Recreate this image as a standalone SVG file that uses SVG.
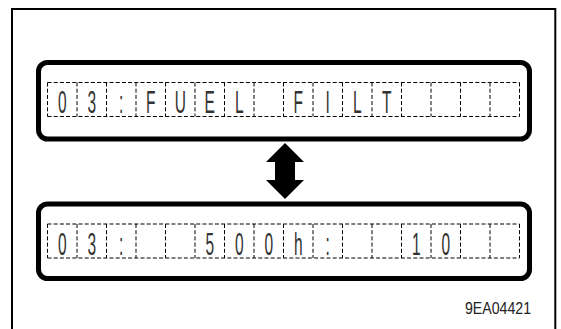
<svg xmlns="http://www.w3.org/2000/svg" width="561" height="329" viewBox="0 0 561 329">
<style>
.frame{fill:none;stroke:#000;stroke-width:2}
.box{fill:#fff;stroke:#000;stroke-width:5}
.cell{fill:none;stroke:#000;stroke-width:1;stroke-dasharray:4 2.2}
.ch{font-family:"Liberation Sans","DejaVu Sans",sans-serif;font-size:31px;fill:#333;text-anchor:middle}
.lbl{font-family:"Liberation Sans","DejaVu Sans",sans-serif;font-size:16px;fill:#222;text-anchor:end}
</style>
<defs>
<g id="grid">
<path class="cell" d="M47.5 0H519.5M47.5 34H519.5M47.5 0V34M77 0V34M106.5 0V34M136 0V34M165.5 0V34M195 0V34M224.5 0V34M254 0V34M283.5 0V34M313 0V34M342.5 0V34M372 0V34M401.5 0V34M431 0V34M460.5 0V34M490 0V34M519.5 0V34"/>
</g>
</defs>
<rect width="561" height="329" fill="#fff"/>
<g id="frame"><path class="frame" d="M12 329V9H555.3V329"/></g>
<g id="display-top">
<rect class="box" x="38.5" y="62.5" width="491" height="76.5" rx="9"/>
<use href="#grid" y="82.5"/>
<text class="ch" transform="translate(62.25 112.5) scale(0.5 1)">0</text>
<text class="ch" transform="translate(91.75 112.5) scale(0.5 1)">3</text>
<text class="ch" transform="translate(121.25 112.5) scale(0.5 1)">:</text>
<text class="ch" transform="translate(150.75 112.5) scale(0.5 1)">F</text>
<text class="ch" transform="translate(180.25 112.5) scale(0.5 1)">U</text>
<text class="ch" transform="translate(209.75 112.5) scale(0.5 1)">E</text>
<text class="ch" transform="translate(239.25 112.5) scale(0.5 1)">L</text>
<text class="ch" transform="translate(298.25 112.5) scale(0.5 1)">F</text>
<text class="ch" transform="translate(327.75 112.5) scale(0.5 1)">I</text>
<text class="ch" transform="translate(357.25 112.5) scale(0.5 1)">L</text>
<text class="ch" transform="translate(386.75 112.5) scale(0.5 1)">T</text>
</g>
<g id="display-bottom">
<rect class="box" x="38.5" y="204" width="491" height="74.5" rx="9"/>
<use href="#grid" y="224"/>
<text class="ch" transform="translate(62.25 255) scale(0.5 1)">0</text>
<text class="ch" transform="translate(91.75 255) scale(0.5 1)">3</text>
<text class="ch" transform="translate(121.25 255) scale(0.5 1)">:</text>
<text class="ch" transform="translate(209.75 255) scale(0.5 1)">5</text>
<text class="ch" transform="translate(239.25 255) scale(0.5 1)">0</text>
<text class="ch" transform="translate(268.75 255) scale(0.5 1)">0</text>
<text class="ch" transform="translate(298.25 255) scale(0.5 1)">h</text>
<text class="ch" transform="translate(327.75 255) scale(0.5 1)">:</text>
<text class="ch" transform="translate(416.25 255) scale(0.5 1)">1</text>
<text class="ch" transform="translate(445.75 255) scale(0.5 1)">0</text>
</g>
<g id="connectors">
<path d="M285 143L304 162H295V180H304L285 199L266 180H275V162H266Z" fill="#000"/>
</g>
<g id="label"><text class="lbl" x="531" y="313.5" textLength="66" lengthAdjust="spacingAndGlyphs">9EA04421</text></g>
</svg>
